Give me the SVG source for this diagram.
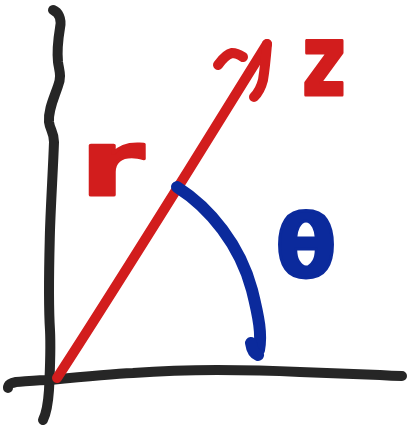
<svg xmlns="http://www.w3.org/2000/svg" width="407" height="427" viewBox="0 0 407 427">
<style>
.ax{fill:none;stroke:#262626;stroke-width:10;stroke-linecap:round;stroke-linejoin:round}
.red{fill:none;stroke:#d21d1d;stroke-width:10;stroke-linecap:round;stroke-linejoin:round}
.blue{fill:none;stroke:#0b2a9c;stroke-width:12;stroke-linecap:round;stroke-linejoin:round}
.lbl{font-family:"DejaVu Sans",sans-serif;font-weight:bold;stroke-width:3;stroke-linejoin:round}
</style>
<rect width="407" height="427" fill="#ffffff"/>
<g id="connectors">
<path id="axis-vertical" class="ax" d="M53,10 C58,12 62,18 60,28 C58,40 57,52 58,62 C59,70 62,76 58,86 C54,98 48,110 49,122 C50,130 54,132 54,142 C53,170 51,200 50,230 C49,270 48,300 50,330 C51,350 50,370 49,390 C48,405 46,414 43,420"/>
<path id="axis-horizontal" class="ax" d="M8,388 C8,384 11,383 16,382 C30,381 40,380 50,380 C80,377 110,374 133,373 C160,371 190,370 217,370 C250,370 280,371 300,372 C330,373 360,374 380,375 C392,376 398,376 402,376"/>
<g id="vector-r">
<path class="red" d="M57,378 C100,312 150,232 190,168 C220,120 245,80 267,44"/>
<path class="red" d="M218,65 C223,58 227,54 232,53 C236,53 240,55 243,57"/>
<path class="red" d="M267,44 C266,56 265,68 263,80 C261,88 258,93 254,97"/>
</g>
<g id="arc-theta">
<path class="blue" d="M177,187 C210,208 240,245 252,290 C259,318 262,335 259,350"/>
<path class="blue" d="M251,343 C252,350 255,354 258,355"/>
</g>
</g>
<g id="label-z"><text class="lbl" x="302" y="95" font-size="100" textLength="44" lengthAdjust="spacingAndGlyphs" fill="#d21d1d" stroke="#d21d1d">z</text></g>
<g id="label-r"><text class="lbl" x="80" y="195" font-size="90" textLength="64" lengthAdjust="spacingAndGlyphs" fill="#d21d1d" stroke="#d21d1d">r</text></g>
<g id="label-theta"><text class="lbl" x="306" y="277" text-anchor="middle" font-size="88" fill="#0b2a9c" stroke="#0b2a9c">θ</text></g>
</svg>
